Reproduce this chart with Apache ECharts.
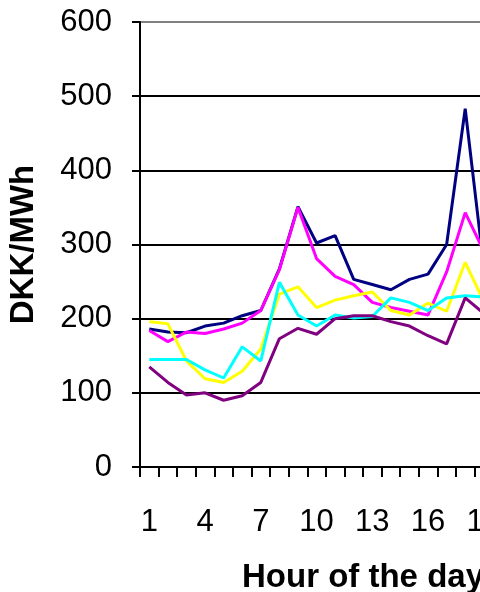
<!DOCTYPE html>
<html>
<head>
<meta charset="utf-8">
<script src="https://cdn.jsdelivr.net/npm/echarts@6/dist/echarts.min.js"></script>
<style>
  html, body { margin: 0; padding: 0; background: #fff; }
  #chart { width: 480px; height: 592px; }
</style>
</head>
<body>
<div id="chart"></div>
<script>
// Hourly price profiles (DKK/MWh) for hours 1..24
const hours = Array.from({ length: 24 }, (_, i) => String(i + 1));
const yTicks = [0, 100, 200, 300, 400, 500, 600];

const seriesNavy    = [186, 182, 181, 190, 194, 204, 211, 267, 351, 302, 312, 253, 246, 239, 253, 260, 300, 483, 270];
const seriesMagenta = [184, 169, 182, 180, 186, 194, 211, 266, 350, 281, 257, 246, 222, 215, 210, 205, 263, 343, 291];
const seriesYellow  = [196, 193, 143, 119, 114, 129, 159, 233, 243, 215, 225, 231, 236, 211, 205, 221, 210, 276, 223];
const seriesCyan    = [145, 145, 145, 131, 120, 162, 143, 249, 205, 190, 205, 201, 203, 228, 222, 211, 228, 231, 229];
const seriesPurple  = [135, 114, 97, 100, 90, 96, 114, 173, 187, 179, 200, 204, 204, 196, 190, 177, 166, 228, 207];

const lineColors = ['#000080', '#FF00FF', '#FFFF00', '#00FFFF', '#800080'];
const lineData = [seriesNavy, seriesMagenta, seriesYellow, seriesCyan, seriesPurple];

const FONT = '"Liberation Sans", Arial, sans-serif';

const chart = echarts.init(document.getElementById('chart'), null, { renderer: 'canvas' });
chart.setOption({
  animation: false,
  backgroundColor: '#ffffff',
  grid: {
    left: 140,
    top: 22,
    width: 446,
    bottom: 125,
    outerBoundsMode: 'none',
    containLabel: false,
    show: true,
    borderColor: '#808080',
    borderWidth: 2,
    backgroundColor: 'transparent'
  },
  xAxis: {
    type: 'category',
    data: hours,
    boundaryGap: true,
    name: 'Hour of the day',
    nameLocation: 'middle',
    nameGap: 94,
    nameTextStyle: { fontFamily: FONT, fontSize: 33, fontWeight: 'bold', color: '#000' },
    axisLine: { show: true, lineStyle: { color: '#000', width: 2 } },
    axisTick: { show: true, interval: 0, length: 10, alignWithLabel: false, lineStyle: { color: '#000', width: 2 } },
    axisLabel: { interval: 2, margin: 40, fontFamily: FONT, fontSize: 31, color: '#000' },
    splitLine: { show: false }
  },
  yAxis: {
    type: 'value',
    min: yTicks[0],
    max: yTicks[yTicks.length - 1],
    interval: 100,
    name: 'DKK/MWh',
    nameLocation: 'middle',
    nameGap: 100,
    nameTextStyle: { fontFamily: FONT, fontSize: 33, fontWeight: 'bold', color: '#000' },
    axisLine: { show: true, lineStyle: { color: '#000', width: 2 } },
    axisTick: { show: true, length: 8, lineStyle: { color: '#000', width: 2 } },
    axisLabel: { margin: 28, fontFamily: FONT, fontSize: 31, color: '#000' },
    splitLine: { show: true, showMaxLine: false, lineStyle: { color: '#000', width: 2 } }
  },
  series: lineData.map((d, i) => ({
    type: 'line',
    data: d,
    showSymbol: false,
    symbol: 'none',
    lineStyle: { color: lineColors[i], width: 3 },
    itemStyle: { color: lineColors[i] },
    z: 2 + i
  }))
});
</script>
</body>
</html>
